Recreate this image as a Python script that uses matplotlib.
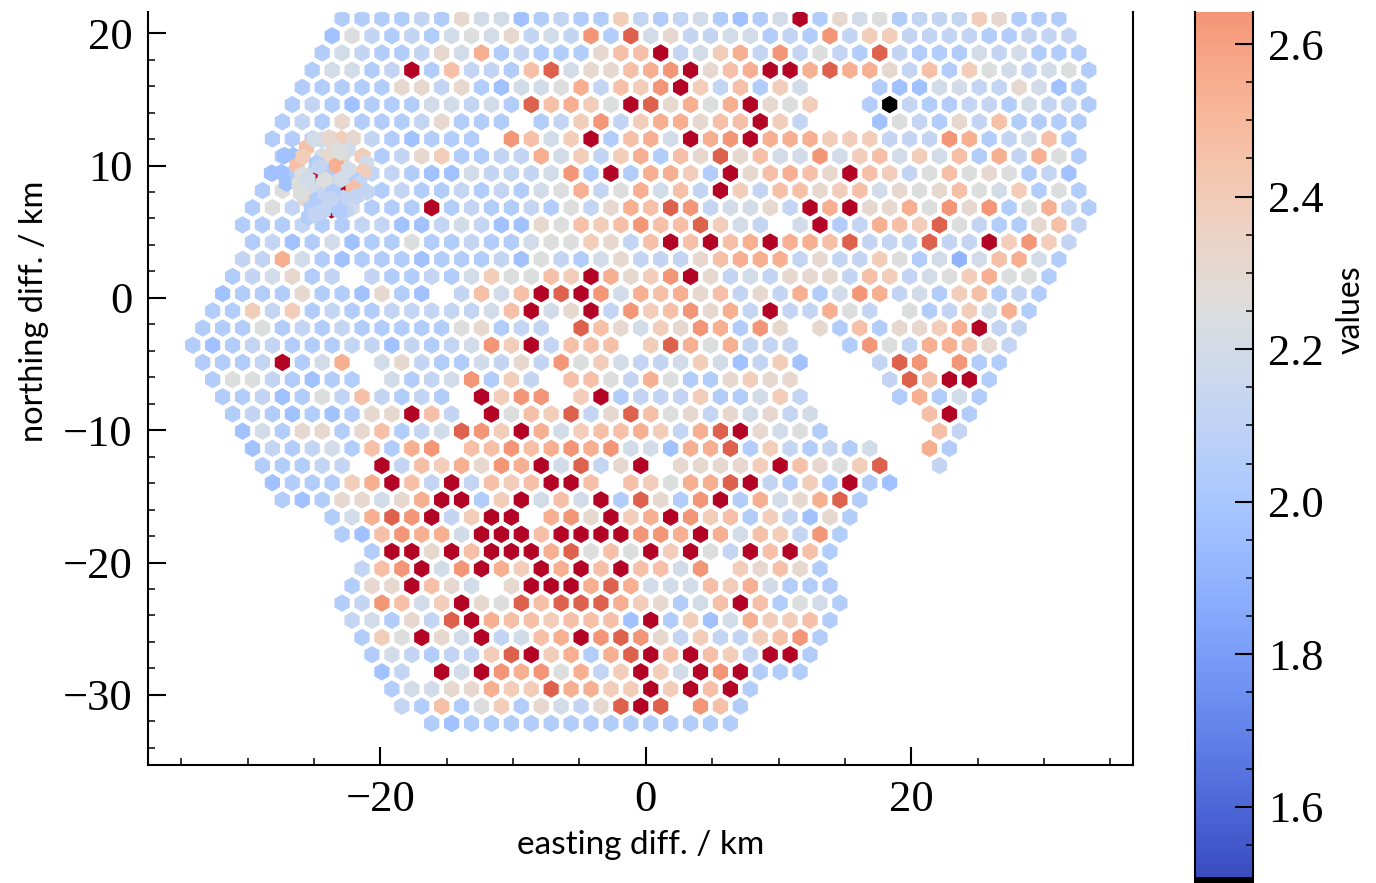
import numpy as np
import matplotlib
matplotlib.use('Agg')
import matplotlib.pyplot as plt
from matplotlib.colors import Normalize
from matplotlib.cm import ScalarMappable
from matplotlib.ticker import MultipleLocator

# value of each letter used in the row strings, z is the one bad pixel
class_names = 'abcdefghijklmz'
class_values = [1.90, 1.97, 2.05, 2.12, 2.19, 2.25, 2.31, 2.39, 2.46, 2.54, 2.64, 2.81, 3.00, 0.0]

# one string per hex row from the top, '.' is a missing pixel
rows = [
    'ccccdcgeebcdcchdcdecbcemcgefcdddhgccc',
    'bfdcdcefegdedkclegddeecdckdhhddddccddd',
    'cedccdgejcdcccgiimdehjdkdfdcldcccedeccc',
    'ceecdmciddcileggijkmgijmmjljjgdichfedefc',
    'cccccggdgcbeefjdihkmhdiche...cbbeeddgebc',
    'cdcbccceedeclijhfmlgjfjmgfh..czdccddceddc',
    'cdcgcccdgccc.cdhkdhjjgiimhd...bfdcgdicccc',
    'cccfedcbccc.kiehmcijemjkmjjjhhhdddkjcdeic',
    'cceghcdghccddjehdhjciglgieekehieheicjdjfc',
    'ccegfddcbbedddekcmcjjhcmgijigmihdfifgfcdb',
    'cfchcdcdccdcdcefjdfjeidmhdiighiegfgifehcfc',
    'cfdcmecccmcdccdcfdgjilkdeegdmjmggjfkgkcfjdc',
    'cccdccddbbdedbbgfihikiilhed.emcdjihlfdccgid',
    'cdbcebccfccdcceffhgdimimijmjjildddlddmhkhd',
    'ddjecbcccbcccdbfdcegdddgijjjdgddhfceaeijec',
    'cdegcd.dccdcehffihmjghkmgdedgggdihdefhjffc',
    'bcccgccbgcb.dieimlmkejijgidgdjcekjdechicdc',
    'cchdhcdccdddddeimegmdkhikgjdmddjfd.fcdhejc',
    'cccfcdcdcccccfgcdd.ligehgkjckg.gcicgghjmdd',
    'cbcddcccddbdcdekhmdiii.hljfjddd..ckfdjjigd',
    'cccdmcej.egdccedgdkfheddehebdhb...dlk.kcc',
    'cffdcbcc.ecdekchd.iifdjfccghgg....dlimmc',
    'ccdbcfdidcdc.mhkk.hmcdddhccehd....cjcec',
    'cdcbcbcggmid.mfihldglifgdgegde.....imc',
    'becggcgicdelkhmjehiijhdjlmgefc.....id',
    'bdcdecicjk.iikijkjkeebjjlchdcdce..jc',
    'cccdd.mdihjgkjmeldgm.gggghmigfhl..d',
    'bccchjmidmdihimmi.ihfjjlmdchcmcb',
    'cbcggegjmmchmeiemclgckmcjegjlc',
    'cejlkmdhmm.jkgmhjmkhichdbgc',
    'cbikjjemmmimmmmkkjmjeihdkc',
    'cmmgmimmmjlfifmhmfdmimic',
    'dikmekmjhmjmimiiek.hgigc',
    'cggmige.gmmmjljeeeihjeccc',
    'cdkiehmgflillljhgceimicfec',
    'decgdlmjiihiiibmchbejhhic',
    'chfmgemdeijmklkgdhddhikc',
    'cedcddhlmhjcjlmimihdmmc',
    'bd.memkjkfjdhmhemkmccc',
    'ceeggjhhljjhhmhmimc',
    'dcicfhcgedglml.kic',
    'cbcccccccccccccc',
]
# first column of each row, counted in half hex spacings
row_starts = [0, -1, -2, -3, -4, -5, -6, -7, -6, -7, -8, -9, -10, -9, -10, -11, -12, -13, -14, -15, -14,
              -13, -12, -11, -10, -9, -8, -7, -6, -1, 0, 3, 2, 1, 0, 1, 2, 3, 4, 5, 6, 9]
x_first = -22.88
y_first = 21.1
x_spacing = 1.5
y_spacing = 1.299

# the small dense patch in the upper left, drawn after the main grid
patch_x = [-24.81, -22.93, -23.68, -28.2, -27.45, -27.2, -26.57, -27.07, -26.12, -25.56, -26.27, -25.82,
           -24.43, -22.93, -22.05, -23.56, -22.43, -21.3, -21.05, -23.93, -24.81, -23.68, -23.3, -21.3,
           -21.92, -24.31, -21.55, -23.68, -24.94, -22.05, -25.69, -24.81, -23.81, -22.8, -21.8, -25.19,
           -24.31, -22.85,
           -25.9, -25.0, -24.6, -23.0, -22.4, -23.9, -22.6, -25.4, -24.9, -24.2, -23.4, -21.0, -26.0,
           -25.45, -24.15, -23.55, -22.95, -24.3, -23.05, -23.7]
patch_y = [8.92, 8.11, 6.65, 9.42, 9.47, 10.75, 10.75, 8.66, 8.66, 11.36, 10.0, 10.68,
           11.94, 12.01, 12.06, 11.43, 11.18, 10.68, 10.17, 10.68, 10.17, 9.6, 10.0, 9.54,
           8.92, 8.66, 8.66, 8.29, 8.03, 8.29, 7.48, 7.4, 7.4, 7.53, 7.66, 6.78,
           6.78, 6.78,
           9.3, 12.0, 9.9, 11.0, 9.7, 12.1, 6.6, 6.1, 6.3, 7.9, 6.9, 8.0, 7.9,
           8.95, 8.9, 8.0, 8.95, 6.55, 6.55, 7.45]
patch_v = 'mmmbbbbbfiihehgfehegccjhcfdceigcdddccd' + 'fedfegdcddcdf' + 'efcedcd'

xs, ys, vs = [], [], []
for r, (row, start) in enumerate(zip(rows, row_starts)):
    for k, ch in enumerate(row):
        if ch == '.':
            continue
        xs.append(x_first + (start + 2 * k) * x_spacing / 2)
        ys.append(y_first - r * y_spacing)
        vs.append(class_values[class_names.index(ch)])

patch_vals = [class_values[class_names.index(ch)] for ch in patch_v]

cmap = plt.get_cmap('coolwarm').copy()
cmap.set_under('k')
norm = Normalize(1.508, 3.0)

plt.rcParams['font.family'] = 'Liberation Serif'
plt.rcParams['axes.linewidth'] = 1.5

fig = plt.figure(figsize=(13.76, 8.83), dpi=100)
ax = fig.add_axes([148 / 1376, 118 / 883, 985 / 1376, 753 / 883])
ax.scatter(xs, ys, c=vs, cmap=cmap, norm=norm, marker='h', s=160, linewidths=0)
ax.scatter(patch_x, patch_y, c=patch_vals, cmap=cmap, norm=norm, marker='h', s=160, linewidths=0)

ax.set_xlim(-37.5, 36.7)
ax.set_ylim(-35.3, 21.6)
ax.spines['top'].set_visible(False)
ax.xaxis.set_major_locator(MultipleLocator(20))
ax.xaxis.set_minor_locator(MultipleLocator(5))
ax.yaxis.set_major_locator(MultipleLocator(10))
ax.yaxis.set_minor_locator(MultipleLocator(2))
ax.tick_params(which='both', direction='in', top=False, right=False, labelsize=32)
ax.tick_params(which='major', length=13, width=1.5, pad=11)
ax.tick_params(which='minor', length=5, width=1.1)
ax.set_xlabel('easting diff. / km', family='Lato', fontsize=24, labelpad=7)
ax.set_ylabel('northing diff. / km', family='Lato', fontsize=23.5, y=0.603, labelpad=10)

cax = fig.add_axes([1195 / 1376, 0, 58 / 1376, 871 / 883])
cax.set_facecolor('k')
cb = fig.colorbar(ScalarMappable(norm=norm, cmap=cmap), cax=cax)
cb.outline.set_visible(False)
cb.set_ticks(np.arange(1.6, 2.7, 0.2))
cb.ax.yaxis.set_minor_locator(MultipleLocator(0.05))
cax.set_ylim(1.5, 2.642)
for side in ['left', 'right']:
    cax.spines[side].set_visible(True)
    cax.spines[side].set_linewidth(1.5)
cax.tick_params(which='both', direction='in', right=True, left=False, labelsize=32)
cax.tick_params(which='major', length=13, width=1.5, pad=11)
cax.tick_params(which='minor', length=5, width=1.1)
cb.set_label('values', family='Lato', fontsize=23, labelpad=8, y=0.658)

fig.savefig('out.png', dpi=100)
